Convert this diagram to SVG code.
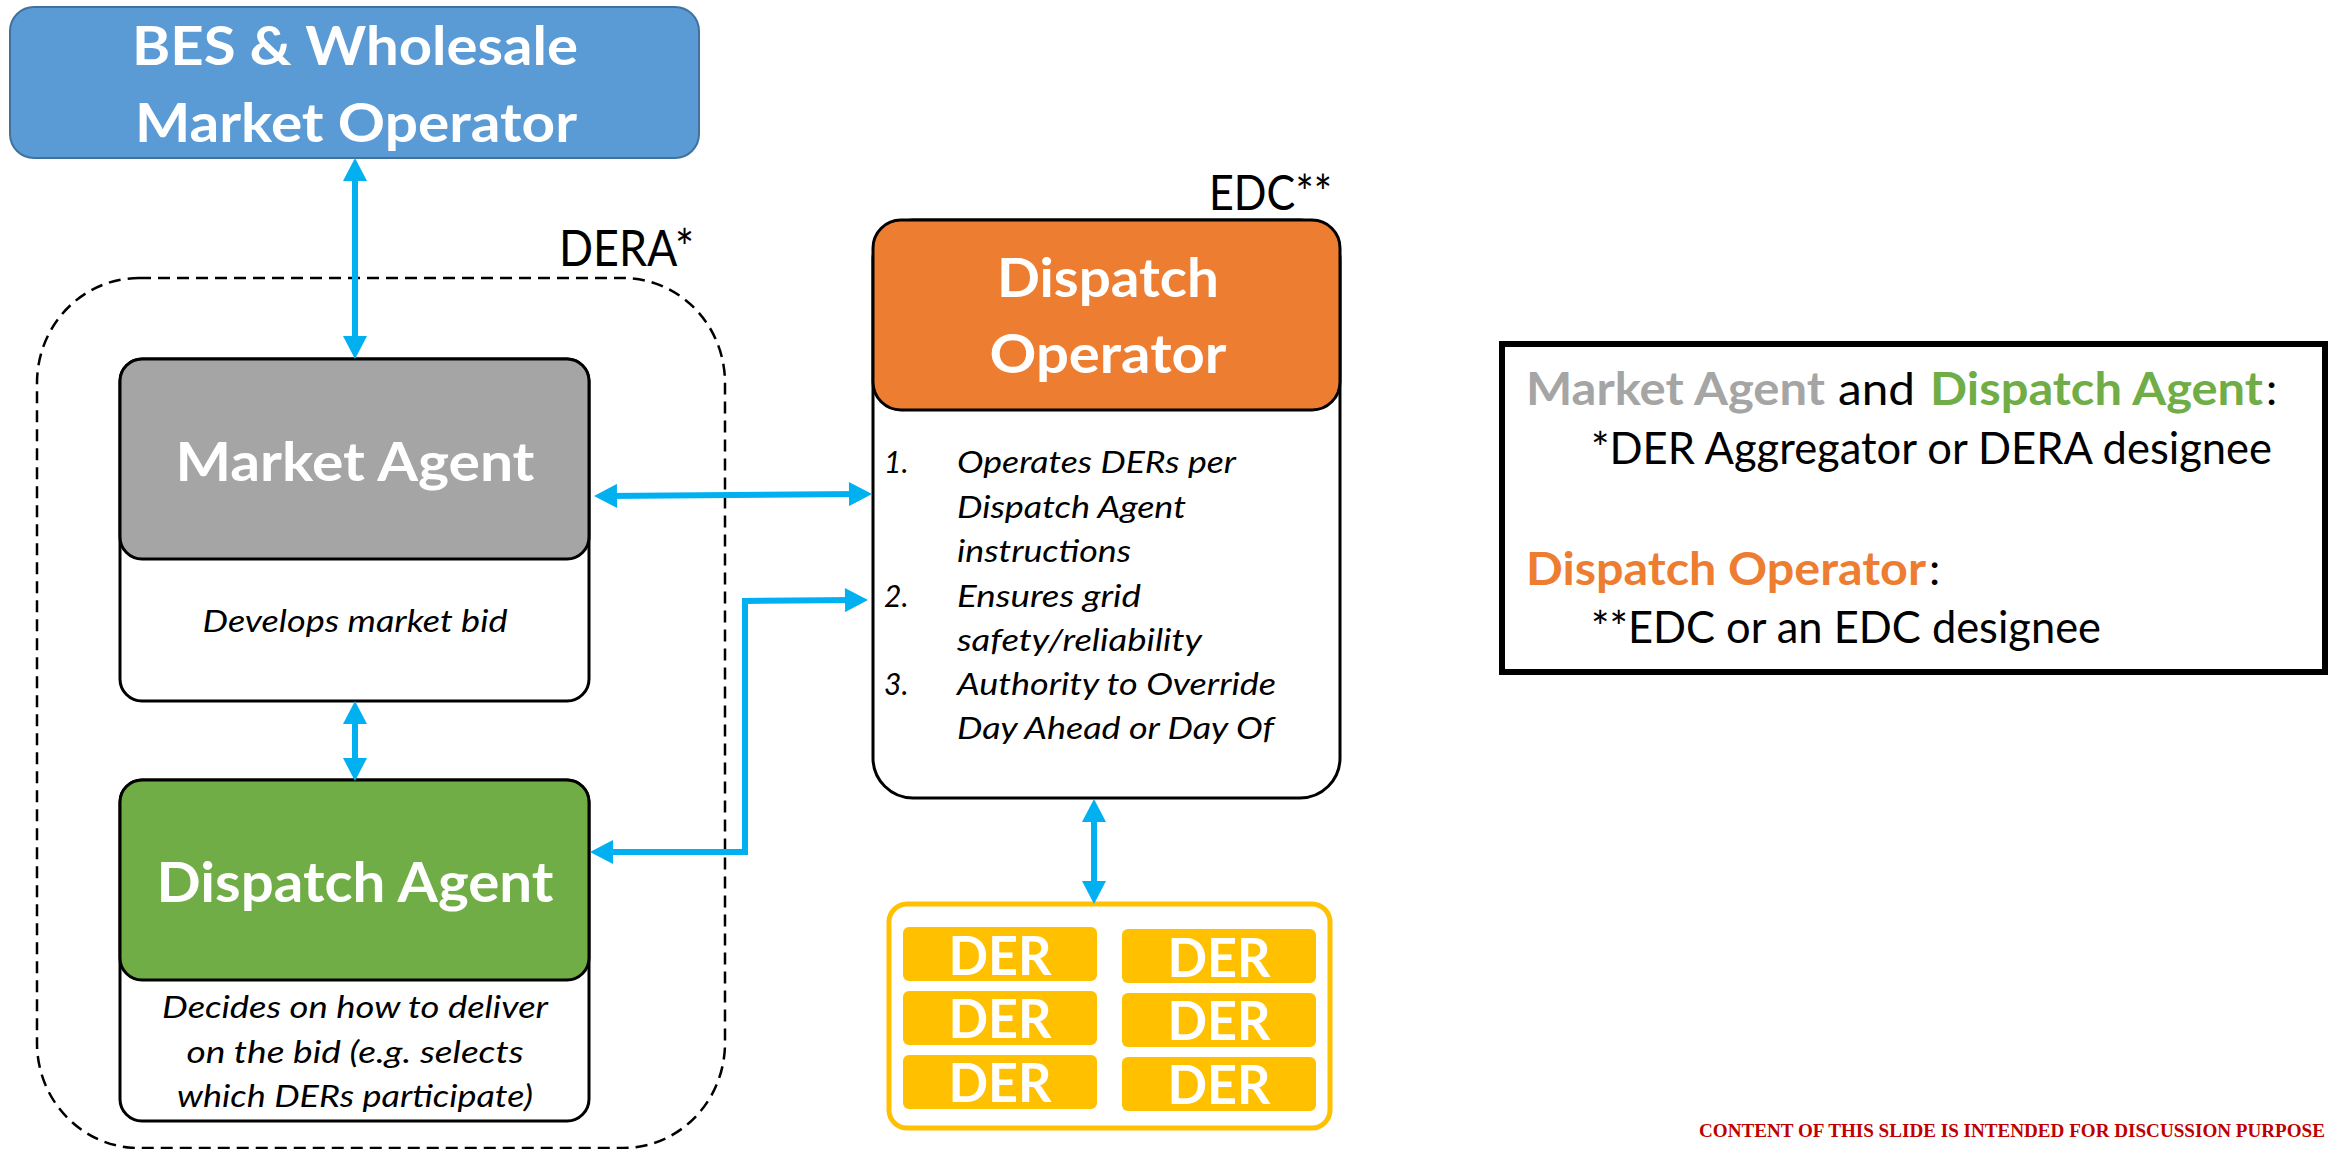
<svg xmlns="http://www.w3.org/2000/svg" width="2331" height="1149" viewBox="0 0 2331 1149">
<style>
.hdr{font-family:Lato,"Liberation Sans",sans-serif;font-weight:bold;fill:#fff;text-anchor:middle}
.it{font-family:Lato,"Liberation Sans",sans-serif;font-style:italic;fill:#000;font-size:30px}
.itc{text-anchor:middle}
.lab{font-family:Lato,"Liberation Sans",sans-serif;fill:#000}
.der{font-family:Lato,"Liberation Sans",sans-serif;font-weight:bold;fill:#fff;text-anchor:middle;font-size:53px}
.leg{font-family:Lato,"Liberation Sans",sans-serif;font-size:45px}
.b{font-weight:bold}
.conn{fill:none;stroke:#00B0F0;stroke-width:6;stroke-linejoin:miter;marker-start:url(#ah);marker-end:url(#ah)}
.box{stroke:#000;stroke-width:3}
.derbox{fill:#FFC000}
</style>
<defs>
<marker id="ah" markerUnits="userSpaceOnUse" markerWidth="24" markerHeight="24" refX="11" refY="12" orient="auto-start-reverse" viewBox="0 0 23 24">
<path d="M0,0 L23,12 L0,24 z" fill="#00B0F0"/>
</marker>
</defs>
<rect width="2331" height="1149" fill="#fff"/>

<g id="dera">
<rect x="37" y="278" width="688" height="870" rx="102" ry="105" fill="none" stroke="#000" stroke-width="2.5" stroke-dasharray="12 7"/>
<text class="lab" x="559" y="266" font-size="50" textLength="135" lengthAdjust="spacingAndGlyphs">DERA*</text>
</g>

<g id="bes">
<rect x="10" y="7" width="689" height="151" rx="24" fill="#5B9BD5" stroke="#41719C" stroke-width="2"/>
<text class="hdr" x="355" y="65" font-size="53" textLength="446" lengthAdjust="spacingAndGlyphs">BES &amp; Wholesale</text>
<text class="hdr" x="356" y="142" font-size="53" textLength="442" lengthAdjust="spacingAndGlyphs">Market Operator</text>
</g>

<g id="market-agent">
<rect class="box" x="120" y="359" width="469" height="342" rx="22" fill="#fff"/>
<rect class="box" x="120" y="359" width="469" height="200" rx="22" fill="#A5A5A5"/>
<text class="hdr" x="355" y="481" font-size="54" textLength="359" lengthAdjust="spacingAndGlyphs">Market Agent</text>
<text class="it itc" x="355" y="632" textLength="305" lengthAdjust="spacingAndGlyphs">Develops market bid</text>
</g>

<g id="dispatch-agent">
<rect class="box" x="120" y="780" width="469" height="341" rx="22" fill="#fff"/>
<rect class="box" x="120" y="780" width="469" height="200" rx="22" fill="#70AD47"/>
<text class="hdr" x="355" y="902" font-size="56" textLength="397" lengthAdjust="spacingAndGlyphs">Dispatch Agent</text>
<text class="it itc" x="355" y="1018" textLength="386" lengthAdjust="spacingAndGlyphs">Decides on how to deliver</text>
<text class="it itc" x="355" y="1063" textLength="337" lengthAdjust="spacingAndGlyphs">on the bid (e.g. selects</text>
<text class="it itc" x="355" y="1107" textLength="356" lengthAdjust="spacingAndGlyphs">which DERs participate)</text>
</g>

<g id="dispatch-operator">
<text class="lab" x="1209" y="210" font-size="49" textLength="123" lengthAdjust="spacingAndGlyphs">EDC**</text>
<rect class="box" x="873" y="220" width="467" height="578" rx="40" fill="#fff"/>
<rect class="box" x="873" y="220" width="467" height="190" rx="28" fill="#ED7D31"/>
<text class="hdr" x="1108" y="297" font-size="54" textLength="222" lengthAdjust="spacingAndGlyphs">Dispatch</text>
<text class="hdr" x="1108" y="373" font-size="54" textLength="237" lengthAdjust="spacingAndGlyphs">Operator</text>
<text class="it" x="884" y="473">1.</text>
<text class="it" x="957" y="473" textLength="279" lengthAdjust="spacingAndGlyphs">Operates DERs per</text>
<text class="it" x="957" y="518" textLength="229" lengthAdjust="spacingAndGlyphs">Dispatch Agent</text>
<text class="it" x="957" y="562" textLength="174" lengthAdjust="spacingAndGlyphs">instructions</text>
<text class="it" x="884" y="607">2.</text>
<text class="it" x="957" y="607" textLength="184" lengthAdjust="spacingAndGlyphs">Ensures grid</text>
<text class="it" x="957" y="651" textLength="245" lengthAdjust="spacingAndGlyphs">safety/reliability</text>
<text class="it" x="884" y="695">3.</text>
<text class="it" x="957" y="695" textLength="319" lengthAdjust="spacingAndGlyphs">Authority to Override</text>
<text class="it" x="957" y="739" textLength="317" lengthAdjust="spacingAndGlyphs">Day Ahead or Day Of</text>
</g>

<g id="der-group">
<rect x="889" y="904" width="441" height="224" rx="18" fill="#fff" stroke="#FFC000" stroke-width="5"/>
<rect class="derbox" x="903" y="927" width="194" height="54" rx="6"/>
<rect class="derbox" x="903" y="991" width="194" height="54" rx="6"/>
<rect class="derbox" x="903" y="1055" width="194" height="54" rx="6"/>
<rect class="derbox" x="1122" y="929" width="194" height="54" rx="6"/>
<rect class="derbox" x="1122" y="993" width="194" height="54" rx="6"/>
<rect class="derbox" x="1122" y="1057" width="194" height="54" rx="6"/>
<text class="der" x="1000" y="975" textLength="103" lengthAdjust="spacingAndGlyphs">DER</text>
<text class="der" x="1000" y="1038" textLength="103" lengthAdjust="spacingAndGlyphs">DER</text>
<text class="der" x="1000" y="1102" textLength="103" lengthAdjust="spacingAndGlyphs">DER</text>
<text class="der" x="1219" y="977" textLength="103" lengthAdjust="spacingAndGlyphs">DER</text>
<text class="der" x="1219" y="1040" textLength="103" lengthAdjust="spacingAndGlyphs">DER</text>
<text class="der" x="1219" y="1104" textLength="103" lengthAdjust="spacingAndGlyphs">DER</text>
</g>

<g id="connectors">
<path class="conn" d="M355,170 L355,347"/>
<path class="conn" d="M355,713 L355,769"/>
<path class="conn" d="M606,496 L860,494"/>
<path class="conn" d="M602,852 L745,852 L745,601 L856,600"/>
<path class="conn" d="M1094,811 L1094,892"/>
</g>

<g id="legend">
<rect x="1502" y="344" width="823" height="328" fill="#fff" stroke="#000" stroke-width="6"/>
<text class="leg b" x="1526" y="405" fill="#A5A5A5" textLength="299" lengthAdjust="spacingAndGlyphs">Market Agent</text>
<text class="leg" x="1838" y="405" fill="#000" textLength="77" lengthAdjust="spacingAndGlyphs">and</text>
<text class="leg b" x="1930" y="405" fill="#70AD47" textLength="333" lengthAdjust="spacingAndGlyphs">Dispatch Agent</text>
<text class="leg" x="2266" y="405" fill="#000">:</text>
<text class="leg" x="1591" y="464" fill="#000" textLength="681" lengthAdjust="spacingAndGlyphs">*DER Aggregator or DERA designee</text>
<text class="leg b" x="1526" y="585" fill="#ED7D31" textLength="400" lengthAdjust="spacingAndGlyphs">Dispatch Operator</text>
<text class="leg" x="1929" y="585" fill="#000">:</text>
<text class="leg" x="1591" y="643" fill="#000" textLength="510" lengthAdjust="spacingAndGlyphs">**EDC or an EDC designee</text>
</g>

<g id="footer">
<text x="1699" y="1137" font-family="'Liberation Serif',serif" font-weight="bold" font-size="19" fill="#C00000" textLength="626" lengthAdjust="spacingAndGlyphs">CONTENT OF THIS SLIDE IS INTENDED FOR DISCUSSION PURPOSE</text>
</g>
</svg>
